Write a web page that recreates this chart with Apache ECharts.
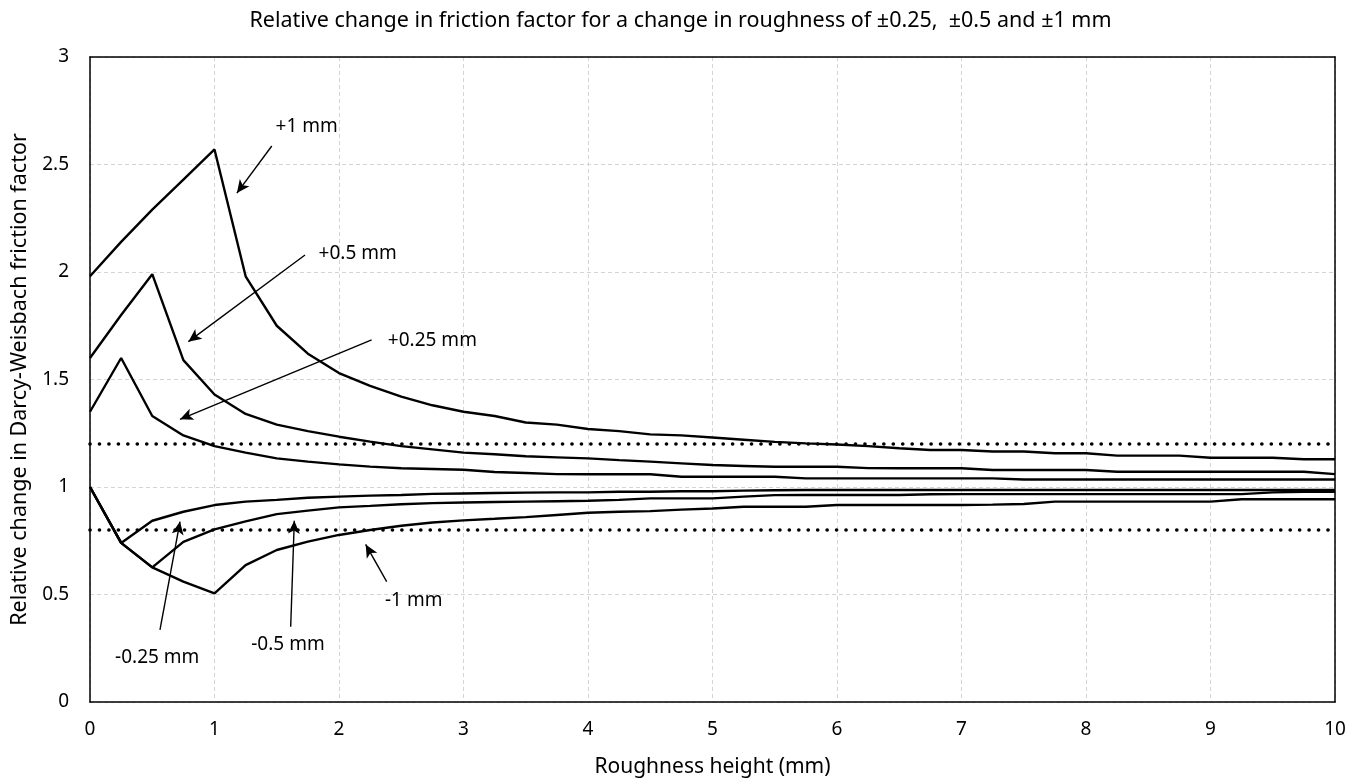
<!DOCTYPE html>
<html>
<head>
<meta charset="utf-8">
<script src="https://cdn.jsdelivr.net/npm/echarts@6/dist/echarts.min.js"></script>
<style>html,body{margin:0;padding:0;background:#fff}#c{width:1361px;height:780px}</style>
</head>
<body>
<div id="c"></div>
<script>
// Roughness heights (mm)
var roughness = [0,0.25,0.5,0.75,1,1.25,1.5,1.75,2,2.25,2.5,2.75,3,3.25,3.5,3.75,4,4.25,4.5,4.75,5,5.25,5.5,5.75,6,6.25,6.5,6.75,7,7.25,7.5,7.75,8,8.25,8.5,8.75,9,9.25,9.5,9.75,10];

var plus1 = [1.98,2.14,2.29,2.43,2.57,1.98,1.75,1.62,1.53,1.47,1.42,1.38,1.35,1.33,1.30,1.29,1.27,1.26,1.245,1.24,1.23,1.22,1.21,1.203,1.198,1.19,1.18,1.172,1.172,1.165,1.165,1.157,1.157,1.146,1.146,1.146,1.136,1.136,1.136,1.129,1.129];
var plus05 = [1.60,1.80,1.99,1.59,1.43,1.34,1.29,1.26,1.234,1.211,1.19,1.175,1.16,1.152,1.143,1.138,1.133,1.125,1.118,1.11,1.102,1.098,1.094,1.094,1.094,1.088,1.087,1.087,1.087,1.079,1.079,1.079,1.079,1.071,1.071,1.071,1.071,1.071,1.071,1.071,1.06];
var plus025 = [1.35,1.60,1.33,1.24,1.19,1.16,1.133,1.118,1.105,1.095,1.087,1.084,1.08,1.07,1.065,1.06,1.059,1.059,1.059,1.048,1.048,1.048,1.048,1.04,1.04,1.04,1.04,1.04,1.04,1.04,1.035,1.035,1.035,1.035,1.035,1.035,1.035,1.035,1.035,1.035,1.035];
var minus025 = [1.00,0.74,0.843,0.885,0.916,0.932,0.94,0.95,0.955,0.96,0.963,0.968,0.97,0.972,0.974,0.975,0.975,0.978,0.978,0.98,0.98,0.983,0.985,0.986,0.986,0.986,0.986,0.986,0.986,0.986,0.986,0.986,0.986,0.986,0.986,0.986,0.986,0.986,0.986,0.986,0.986];
var minus05 = [1.00,0.74,0.626,0.745,0.803,0.84,0.874,0.89,0.905,0.912,0.92,0.925,0.928,0.93,0.932,0.934,0.936,0.94,0.947,0.947,0.947,0.955,0.962,0.963,0.963,0.963,0.963,0.966,0.967,0.967,0.967,0.967,0.967,0.967,0.967,0.967,0.967,0.967,0.975,0.978,0.978];
var minus1 = [1.00,0.74,0.626,0.56,0.505,0.637,0.707,0.746,0.777,0.80,0.82,0.835,0.845,0.852,0.86,0.87,0.88,0.885,0.888,0.895,0.90,0.908,0.908,0.908,0.916,0.916,0.916,0.916,0.916,0.918,0.921,0.932,0.932,0.932,0.932,0.932,0.932,0.943,0.943,0.943,0.943];

// Dotted reference limits
var limitX = [0, 10];
var upperLimit = 1.2;
var lowerLimit = 0.8;

// Annotations: label text, label position, arrow start, arrow end (data units)
var annTexts = ['+1 mm', '+0.5 mm', '+0.25 mm', '-0.25 mm', '-0.5 mm', '-1 mm'];
var annLabelPos = [[1.74,2.675],[2.15,2.084],[2.75,1.68],[0.54,0.205],[1.59,0.265],[2.6,0.47]];
var annFrom = [[1.46,2.586],[1.727,2.079],[2.262,1.684],[0.562,0.335],[1.612,0.35],[2.383,0.56]];
var annTo = [[1.18,2.367],[0.79,1.676],[0.723,1.315],[0.723,0.839],[1.641,0.843],[2.214,0.733]];

var yTicks = {min:0, max:3, interval:0.5};
var xTicks = {min:0, max:10, interval:1};

var FONT = 'Noto Sans';

function pairs(ys){ return roughness.map(function(x,i){ return [x, ys[i]]; }); }
function curve(name, ys){
  return {name:name, type:'line', data:pairs(ys), showSymbol:false, symbol:'none',
    lineStyle:{color:'#000', width:2.4}, z:5, animation:false};
}
function limit(v){
  return {type:'line', data:limitX.map(function(x){return [x,v];}), showSymbol:false, symbol:'none',
    lineStyle:{color:'#000', width:3.6, type:[0.1,9.35], cap:'round'}, z:4, animation:false};
}
var frameAxis = {axisLine:{show:true, onZero:false, lineStyle:{color:'#000', width:1.5}}, axisTick:{show:false},
  axisLabel:{show:false}, splitLine:{show:false}};

var option = {
  animation:false,
  backgroundColor:'#fff',
  title:{text:'Relative change in friction factor for a change in roughness of \u00b10.25,  \u00b10.5 and \u00b11 mm',
    left:'center', top:5, textStyle:{fontFamily:FONT, fontSize:21.5, fontWeight:'normal', color:'#000'}},
  grid:{left:90, right:26, top:57, bottom:78, containLabel:false, outerBoundsMode:'none'},
  xAxis:[{type:'value', min:xTicks.min, max:xTicks.max, interval:xTicks.interval,
    name:'Roughness height (mm)', nameLocation:'middle', nameGap:55,
    nameTextStyle:{fontFamily:FONT, fontSize:21, color:'#000'},
    axisLine:{show:true, onZero:false, lineStyle:{color:'#000', width:1.5}}, axisTick:{show:false},
    axisLabel:{fontFamily:FONT, fontSize:19, color:'#000', margin:18},
    splitLine:{show:true, lineStyle:{color:'#d4d4d4', type:[4,3], width:1}}},
    Object.assign({type:'value', position:'top', min:xTicks.min, max:xTicks.max}, frameAxis)],
  yAxis:[{type:'value', min:yTicks.min, max:yTicks.max, interval:yTicks.interval,
    name:'Relative change in Darcy-Weisbach friction factor', nameLocation:'middle', nameGap:57,
    nameTextStyle:{fontFamily:FONT, fontSize:21.5, color:'#000'},
    axisLine:{show:true, onZero:false, lineStyle:{color:'#000', width:1.5}}, axisTick:{show:false},
    axisLabel:{fontFamily:FONT, fontSize:19, color:'#000', margin:21},
    splitLine:{show:true, lineStyle:{color:'#d4d4d4', type:[4,3], width:1}}},
    Object.assign({type:'value', position:'right', min:yTicks.min, max:yTicks.max}, frameAxis)],
  series:[
    curve('+1 mm', plus1), curve('+0.5 mm', plus05), curve('+0.25 mm', plus025),
    curve('-0.25 mm', minus025), curve('-0.5 mm', minus05), curve('-1 mm', minus1),
    limit(upperLimit), limit(lowerLimit),
    {type:'line', data:[], z:6, animation:false,
      markLine:{silent:true, symbol:['none','arrow'], symbolSize:[9,13], animation:false,
        lineStyle:{color:'#000', width:1.4, type:'solid'}, label:{show:false},
        data:annFrom.map(function(f,i){ return [{coord:f},{coord:annTo[i]}]; })}},
    {type:'scatter', symbolSize:0.01, z:7, animation:false, itemStyle:{color:'#000'},
      data:annLabelPos.map(function(p,i){ return {value:p, name:annTexts[i]}; }),
      label:{show:true, position:'inside', formatter:'{b}', fontFamily:FONT, fontSize:19, color:'#000',
        textBorderWidth:0, opacity:1}}
  ]
};
var chart = echarts.init(document.getElementById('c'), null, {renderer:'canvas'});
chart.setOption(option);
</script>
</body>
</html>
